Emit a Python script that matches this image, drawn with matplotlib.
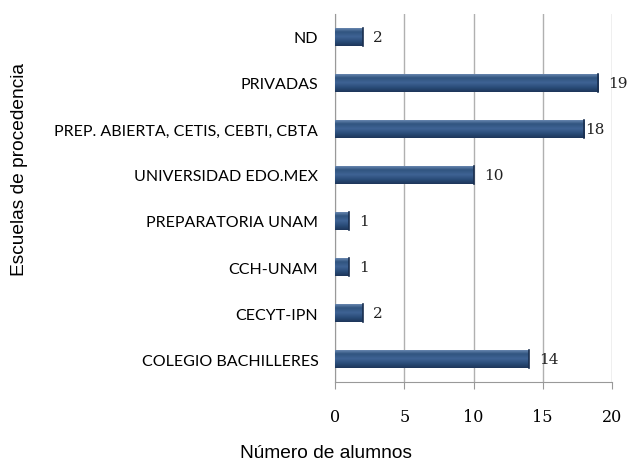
import numpy as np
import matplotlib.pyplot as plt
from matplotlib.colors import LinearSegmentedColormap

categorias = ["COLEGIO BACHILLERES", "CECYT-IPN", "CCH-UNAM", "PREPARATORIA UNAM",
              "UNIVERSIDAD EDO.MEX", "PREP. ABIERTA, CETIS, CEBTI, CBTA", "PRIVADAS", "ND"]
alumnos = [14, 2, 1, 1, 10, 18, 19, 2]
ticks_x = [0, 5, 10, 15, 20]

fig = plt.figure(figsize=(6.34, 4.64), dpi=100)
ax = fig.add_axes([335/634, 1 - 383/464, 277/634, 368/464])

y = np.arange(len(categorias))
bars = ax.barh(y, alumnos, height=0.4, color="#2d4f7c", zorder=3)

# gradiente vertical sobre cada barra
cmap = LinearSegmentedColormap.from_list(
    "barra", ["#1d365a", "#2b4d7a", "#3f6394", "#30547f", "#7592bb"])
grad = np.linspace(0, 1, 64).reshape(-1, 1)
for b in bars:
    x0, y0 = b.get_x(), b.get_y()
    w, h = b.get_width(), b.get_height()
    im = ax.imshow(grad, cmap=cmap, aspect="auto", origin="lower",
                   extent=[x0, x0 + w, y0, y0 + h], zorder=4)
    im.set_clip_path(b)
    ax.plot([x0 + w, x0 + w], [y0, y0 + h], color="#1a2f4f", lw=1.2, zorder=5)

for yi, v in zip(y, alumnos):
    off = 0.05 if v == 18 else 0.75
    ax.text(v + off, yi, str(v), va="center", ha="left",
            fontsize=11, family="DejaVu Serif", color="#222222", zorder=6)

ax.set_xlim(0, 20)
ax.set_ylim(-0.5, len(categorias) - 0.5)
ax.set_xticks(ticks_x)
ax.set_xticklabels([str(t) for t in ticks_x], family="DejaVu Serif", fontsize=11.5)
ax.set_yticks(y)
ax.set_yticklabels(categorias, family="Lato", fontsize=11.5)
ax.tick_params(axis="y", length=0, pad=12)
ax.tick_params(axis="x", length=5, color="#999999", pad=14)
ax.grid(axis="x", color="#b0b0b0", lw=1, zorder=0)
for s in ["top", "right"]:
    ax.spines[s].set_visible(False)
for s in ["left", "bottom"]:
    ax.spines[s].set_color("#999999")

fig.text(326/634, 1 - 454/464, "Número de alumnos", ha="center", va="center",
         fontsize=13.8, family="Liberation Sans")
fig.text(20/634, 1 - 170/464, "Escuelas de procedencia", ha="center", va="center",
         rotation=90, fontsize=13.8, family="Liberation Sans")

fig.savefig("out.png", dpi=100)
